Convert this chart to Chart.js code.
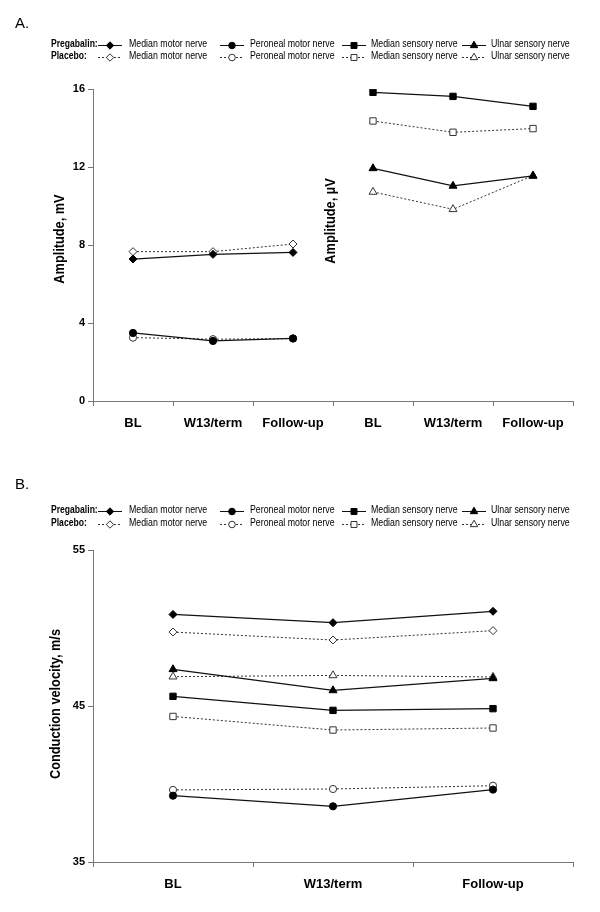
<!DOCTYPE html>
<html>
<head>
<meta charset="utf-8">
<script src="https://cdn.jsdelivr.net/npm/chart.js@4.4.0/dist/chart.umd.min.js"></script>
<style>
body { margin: 0; background: #fff; }
canvas { display: block; }
</style>
</head>
<body>
<canvas id="chartA" width="600" height="456"></canvas>
<canvas id="chartB" width="600" height="456"></canvas>
<script>
var timepoints = ['BL', 'W13/term', 'Follow-up'];
var nerveNames = ['Median motor nerve', 'Peroneal motor nerve', 'Median sensory nerve', 'Ulnar sensory nerve'];
var groupNames = ['Pregabalin:', 'Placebo:'];

// A. amplitude (motor nerves in mV, sensory nerves in µV)
var ampPregMedianMotor = [7.28, 7.52, 7.62];
var ampPlacMedianMotor = [7.66, 7.66, 8.05];
var ampPregPeroneal = [3.49, 3.08, 3.21];
var ampPlacPeroneal = [3.25, 3.17, 3.20];
var ampPregMedianSens = [15.83, 15.62, 15.11];
var ampPlacMedianSens = [14.36, 13.78, 13.97];
var ampPregUlnarSens = [11.93, 11.03, 11.54];
var ampPlacUlnarSens = [10.72, 9.83, 11.56];
var ampTicks = [0, 4, 8, 12, 16];

// B. conduction velocity, m/s
var velPregMedianMotor = [50.87, 50.34, 51.07];
var velPlacMedianMotor = [49.74, 49.23, 49.83];
var velPregPeroneal = [39.25, 38.57, 39.64];
var velPlacPeroneal = [39.62, 39.68, 39.89];
var velPregMedianSens = [45.62, 44.72, 44.83];
var velPlacMedianSens = [44.33, 43.46, 43.59];
var velPregUlnarSens = [47.35, 46.0, 46.77];
var velPlacUlnarSens = [46.88, 46.96, 46.86];
var velTicks = [35, 45, 55];

var FONT = '"Liberation Sans", Arial, sans-serif';
var markers = ['rectRot', 'circle', 'rect', 'triangle'];
var markerSize = [4, 3.6, 4.5, 4.6];

function makeDataset(name, values, nerve, placebo) {
    return {
        label: name,
        data: values,
        borderColor: placebo ? '#333' : '#111',
        borderWidth: placebo ? 1 : 1.2,
        borderDash: placebo ? [2, 2] : [],
        pointStyle: markers[nerve],
        pointRadius: markerSize[nerve],
        pointBackgroundColor: placebo ? '#fff' : '#000',
        pointBorderColor: placebo ? '#333' : '#000',
        pointBorderWidth: 1,
        tension: 0,
        spanGaps: false
    };
}

var none = [null, null, null];

// the original uses a condensed face; squeeze Liberation Sans sideways
function narrowText(ctx, text, x, y, sx) {
    ctx.save();
    ctx.translate(x, y);
    ctx.scale(sx, 1);
    ctx.fillText(text, 0, 0);
    ctx.restore();
}

function legendPlugin(letter, letterY, rowY, titles) {
    return {
        id: 'panelLegend',
        afterDraw: function (chart) {
            var ctx = chart.ctx;
            ctx.save();
            ctx.fillStyle = '#000';
            ctx.textBaseline = 'middle';
            ctx.font = '15px ' + FONT;
            ctx.fillText(letter, 15, letterY);

            var lineX = [98, 220, 342, 462];
            var textX = [129, 250, 371, 491];
            for (var g = 0; g < 2; g++) {
                var y = rowY[g];
                ctx.font = 'bold 11px ' + FONT;
                ctx.fillStyle = '#000';
                narrowText(ctx, groupNames[g], 51, y, 0.78);
                for (var n = 0; n < 4; n++) {
                    ctx.strokeStyle = g ? '#333' : '#111';
                    ctx.lineWidth = 1;
                    ctx.setLineDash(g ? [2, 2] : []);
                    ctx.beginPath();
                    ctx.moveTo(lineX[n], y + 1.5);
                    ctx.lineTo(lineX[n] + 24, y + 1.5);
                    ctx.stroke();
                    ctx.setLineDash([]);
                    ctx.fillStyle = g ? '#fff' : '#000';
                    ctx.strokeStyle = g ? '#333' : '#000';
                    Chart.helpers.drawPoint(ctx, {
                        pointStyle: markers[n], radius: markerSize[n] - 0.3, rotation: 0, borderWidth: 1
                    }, lineX[n] + 12, y + 1.5);
                    ctx.fillStyle = '#000';
                    ctx.font = '11px ' + FONT;
                    narrowText(ctx, nerveNames[n], textX[n], y, 0.8);
                }
            }

            ctx.font = 'bold 15px ' + FONT;
            ctx.textAlign = 'center';
            titles.forEach(function (t) {
                ctx.save();
                ctx.translate(t.x, t.y);
                ctx.rotate(-Math.PI / 2);
                ctx.scale(0.85, 1);
                ctx.fillText(t.text, 0, 0);
                ctx.restore();
            });
            ctx.restore();
        }
    };
}

function makeChart(id, labels, datasets, tickValues, padTop, xHeight, plugin) {
    return new Chart(document.getElementById(id), {
        type: 'line',
        data: { labels: labels, datasets: datasets },
        options: {
            responsive: false,
            animation: false,
            events: [],
            layout: { padding: { top: padTop, right: 27, left: 0, bottom: 0 } },
            plugins: { legend: { display: false }, tooltip: { enabled: false } },
            scales: {
                x: {
                    offset: true,
                    grid: { offset: true, drawOnChartArea: false, drawTicks: true, tickLength: 5, color: '#777' },
                    border: { display: true, color: '#777', width: 1 },
                    ticks: { color: '#000', padding: 10, maxRotation: 0, font: { family: FONT, size: 13, weight: 'bold' } },
                    afterFit: function (s) { s.height = xHeight; }
                },
                y: {
                    min: tickValues[0],
                    max: tickValues[tickValues.length - 1],
                    afterBuildTicks: function (s) { s.ticks = tickValues.map(function (v) { return { value: v }; }); },
                    grid: { drawOnChartArea: false, drawTicks: true, tickLength: 5, color: '#777' },
                    border: { display: true, color: '#777', width: 1 },
                    ticks: { color: '#000', padding: 3, font: { family: FONT, size: 11, weight: 'bold' } },
                    afterFit: function (s) { s.width = 93; }
                }
            }
        },
        plugins: [plugin]
    });
}

var labelsA = timepoints.concat(timepoints);
var datasetsA = [
    makeDataset('Pregabalin median motor', ampPregMedianMotor.concat(none), 0, false),
    makeDataset('Pregabalin peroneal motor', ampPregPeroneal.concat(none), 1, false),
    makeDataset('Pregabalin median sensory', none.concat(ampPregMedianSens), 2, false),
    makeDataset('Pregabalin ulnar sensory', none.concat(ampPregUlnarSens), 3, false),
    makeDataset('Placebo median motor', ampPlacMedianMotor.concat(none), 0, true),
    makeDataset('Placebo peroneal motor', ampPlacPeroneal.concat(none), 1, true),
    makeDataset('Placebo median sensory', none.concat(ampPlacMedianSens), 2, true),
    makeDataset('Placebo ulnar sensory', none.concat(ampPlacUlnarSens), 3, true)
];
makeChart('chartA', labelsA, datasetsA, ampTicks, 89, 55,
    legendPlugin('A.', 24, [44, 56], [
        { text: 'Amplitude, mV', x: 60, y: 239 },
        { text: 'Amplitude, \u00b5V', x: 331, y: 221 }
    ]));

var datasetsB = [
    makeDataset('Pregabalin median motor', velPregMedianMotor, 0, false),
    makeDataset('Pregabalin peroneal motor', velPregPeroneal, 1, false),
    makeDataset('Pregabalin median sensory', velPregMedianSens, 2, false),
    makeDataset('Pregabalin ulnar sensory', velPregUlnarSens, 3, false),
    makeDataset('Placebo median motor', velPlacMedianMotor, 0, true),
    makeDataset('Placebo peroneal motor', velPlacPeroneal, 1, true),
    makeDataset('Placebo median sensory', velPlacMedianSens, 2, true),
    makeDataset('Placebo ulnar sensory', velPlacUlnarSens, 3, true)
];
makeChart('chartB', timepoints, datasetsB, velTicks, 94, 50,
    legendPlugin('B.', 29, [54, 67], [
        { text: 'Conduction velocity, m/s', x: 56, y: 248 }
    ]));
</script>
</body>
</html>
